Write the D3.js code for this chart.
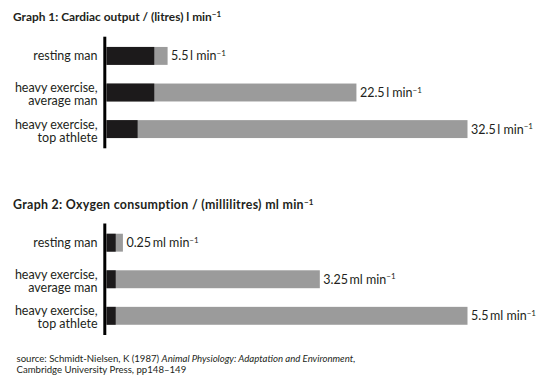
<!DOCTYPE html>
<html>
<head>
<meta charset="utf-8">
<script src="https://cdn.jsdelivr.net/npm/d3@7"></script>
<style>
  body { margin: 0; background: #fff; }
  text { font-family: Lato, "Open Sans", sans-serif; fill: #231f20; }
</style>
</head>
<body>
<script>
const width = 556;
const height = 387;

// data
const categories = [["resting man"], ["heavy exercise,", "average man"], ["heavy exercise,", "top athlete"]];
const cardiacTotal = [5.5, 22.5, 32.5];
const cardiacDark = [4.3, 4.3, 2.8];
const cardiacLabels = ["5.5", "22.5", "32.5"];
const oxygenTotal = [0.25, 3.25, 5.5];
const oxygenDark = [0.14, 0.14, 0.14];
const oxygenLabels = ["0.25", "3.25", "5.5"];

const svg = d3.select("body")
  .append("svg")
  .attr("width", width)
  .attr("height", height);

const axisX = 104.8;
const barX = 106.5;
const barSpan = 361;

function drawGraph(opts) {
  const { title, unit, total, dark, labels, top, bottom, titleY, titleSize, titleSpacing } = opts;
  const data = categories.map((c, i) => ({ cat: c, total: total[i], dark: dark[i], label: labels[i], key: i }));

  const t = svg.append("text")
    .attr("x", 13)
    .attr("y", titleY)
    .attr("font-size", titleSize)
    .attr("letter-spacing", titleSpacing)
    .attr("font-weight", "bold")
    .text(title);
  t.append("tspan").attr("font-size", 8).attr("dy", -4.5).text("−1");

  const y = d3.scaleBand()
    .domain(data.map(d => d.key))
    .range([top, bottom])
    .paddingInner(0.51)
    .paddingOuter(0.28);

  const x = d3.scaleLinear()
    .domain([0, d3.max(total)])
    .range([barX, barX + barSpan]);

  const g = svg.append("g");

  g.selectAll("rect.total").data(data).enter()
    .append("rect")
    .attr("class", "total")
    .attr("x", x(0))
    .attr("y", d => y(d.key))
    .attr("width", d => x(d.total) - x(0))
    .attr("height", y.bandwidth())
    .attr("fill", "#9b9b9b");

  g.selectAll("rect.dark").data(data).enter()
    .append("rect")
    .attr("class", "dark")
    .attr("x", x(0))
    .attr("y", d => y(d.key))
    .attr("width", d => x(d.dark) - x(0))
    .attr("height", y.bandwidth())
    .attr("fill", "#1c1a1b");

  g.append("line")
    .attr("x1", axisX).attr("x2", axisX)
    .attr("y1", top).attr("y2", bottom)
    .attr("stroke", "#000")
    .attr("stroke-width", 3);

  // category labels
  g.selectAll("text.cat").data(data).enter()
    .append("text")
    .attr("class", "cat")
    .attr("text-anchor", "end")
    .attr("font-size", 12.5)
    .attr("y", d => y(d.key) + y.bandwidth() / 2 + (d.cat.length > 1 ? -0.5 : 4.5))
    .each(function(d) {
      d3.select(this).selectAll("tspan").data(d.cat).enter()
        .append("tspan")
        .attr("x", 97.5)
        .attr("dy", (s, i) => i === 0 ? 0 : 13)
        .text(s => s);
    });

  // value labels
  const vl = g.selectAll("text.val").data(data).enter()
    .append("text")
    .attr("class", "val")
    .attr("font-size", 12.5)
    .attr("x", d => x(d.total) + 3.5)
    .attr("y", d => y(d.key) + y.bandwidth() / 2 + 4.5);
  vl.append("tspan").text(d => d.label + "\u2009" + unit);
  vl.append("tspan").attr("font-size", 8).attr("dy", -4.5).text("−1");
}

drawGraph({
  title: "Graph 1: Cardiac output / (litres) l min",
  unit: "l min",
  total: cardiacTotal,
  dark: cardiacDark,
  labels: cardiacLabels,
  top: 36.7,
  bottom: 148.3,
  titleY: 21,
  titleSize: 11.9,
  titleSpacing: 0
});

drawGraph({
  title: "Graph 2: Oxygen consumption / (millilitres) ml min",
  unit: "ml min",
  total: oxygenTotal,
  dark: oxygenDark,
  labels: oxygenLabels,
  top: 223.5,
  bottom: 335,
  titleY: 209,
  titleSize: 12.4,
  titleSpacing: 0.3
});

const src = svg.append("text")
  .attr("x", 16.5)
  .attr("y", 361.5)
  .attr("font-size", 9.6);
src.append("tspan").text("source: Schmidt-Nielsen, K (1987) ");
src.append("tspan").attr("font-style", "italic").text("Animal Physiology: Adaptation and Environment,");

svg.append("text")
  .attr("x", 16.5)
  .attr("y", 372.5)
  .attr("font-size", 9.6)
  .text("Cambridge University Press, pp148–149");
</script>
</body>
</html>
